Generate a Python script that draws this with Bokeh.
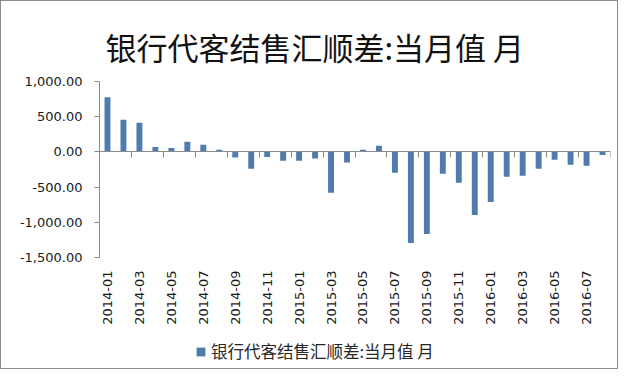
import math
from bokeh.plotting import figure
from bokeh.layouts import column
from bokeh.models import (ColumnDataSource, Range1d, FixedTicker, LinearAxis,
                          NumeralTickFormatter, Legend, LegendItem)
from bokeh.embed import file_html
from bokeh.resources import INLINE

months = [
    "2014-01", "2014-02", "2014-03", "2014-04", "2014-05", "2014-06",
    "2014-07", "2014-08", "2014-09", "2014-10", "2014-11", "2014-12",
    "2015-01", "2015-02", "2015-03", "2015-04", "2015-05", "2015-06",
    "2015-07", "2015-08", "2015-09", "2015-10", "2015-11", "2015-12",
    "2016-01", "2016-02", "2016-03", "2016-04", "2016-05", "2016-06",
    "2016-07", "2016-08",
]
values = [
    775, 457, 414, 71, 57, 143, 100, 29, -81, -238, -71, -124,
    -124, -95, -581, -152, 29, 86, -295, -1295, -1167, -310, -438, -895,
    -710, -352, -338, -238, -110, -181, -195, -43,
]
y_ticks = [-1500, -1000, -500, 0, 500, 1000]
title_text = "银行代客结售汇顺差:当月值 月"
series_name = "银行代客结售汇顺差:当月值 月"

BAR = "#4F7CAC"
AXIS = "#8a8a8a"
TXT = "#1a1a1a"

x = list(range(len(months)))
src = ColumnDataSource(dict(x=x, top=values, month=months))

p = figure(width=616, height=329, output_backend="svg", toolbar_location=None,
           x_range=Range1d(-0.5, len(months) - 0.5),
           y_range=Range1d(min(y_ticks), max(y_ticks)),
           min_border_left=98, min_border_right=7,
           min_border_top=80, min_border_bottom=73)

p.title.text = title_text
p.title.align = "left"
p.title.offset = 6
p.title.standoff = 26
p.title.text_font = "Noto Sans CJK SC"
p.title.text_font_size = "31px"
p.title.text_font_style = "normal"
p.title.text_color = "#111111"

r = p.vbar(x="x", top="top", bottom=0, width=0.37, source=src,
           fill_color=BAR, line_color=None)

p.xgrid.visible = False
p.ygrid.visible = False
p.outline_line_color = None

xa = p.xaxis[0]
xa.ticker = FixedTicker(ticks=x[::2])
xa.major_label_overrides = {i: months[i] for i in x[::2]}
xa.major_label_orientation = math.pi / 2
xa.axis_line_alpha = 0
xa.major_tick_line_alpha = 0
xa.minor_tick_line_alpha = 0
xa.major_tick_out = 6
xa.major_label_text_font = "DejaVu Sans"
xa.major_label_text_font_size = "13px"
xa.major_label_text_color = TXT
xa.major_label_standoff = 7

za = LinearAxis(fixed_location=0,
                ticker=FixedTicker(ticks=[i - 0.5 for i in x[::2]] + [len(months) - 0.5]))
za.axis_line_color = AXIS
za.major_tick_line_color = AXIS
za.major_tick_in = 0
za.major_tick_out = 6
za.minor_tick_line_alpha = 0
za.major_label_text_alpha = 0
p.add_layout(za, "below")

ya = p.yaxis[0]
ya.ticker = FixedTicker(ticks=y_ticks)
ya.formatter = NumeralTickFormatter(format="0,0.00")
ya.axis_line_color = AXIS
ya.major_tick_line_color = AXIS
ya.major_tick_in = 0
ya.major_tick_out = 5
ya.minor_tick_line_alpha = 0
ya.major_label_text_font = "DejaVu Sans"
ya.major_label_text_font_size = "13px"
ya.major_label_text_color = TXT
ya.major_label_standoff = 12

# legend strip below the chart (its frame is aligned with the chart's frame)
lf = figure(width=616, height=38, output_backend="svg", toolbar_location=None,
            x_range=Range1d(-0.5, len(months) - 0.5), y_range=Range1d(5000, 6000),
            x_axis_type=None, y_axis_type=None,
            min_border_left=0, min_border_right=0,
            min_border_top=0, min_border_bottom=0)
lf.xgrid.visible = False
lf.ygrid.visible = False
lf.outline_line_color = None
lr = lf.vbar(x="x", top="top", bottom=0, width=0.37, source=src,
             fill_color=BAR, line_color=None, visible=False)

legend = Legend(items=[LegendItem(label=series_name, renderers=[lr])],
                orientation="horizontal", location=(94, 3),
                label_text_font="Noto Sans CJK SC", label_text_font_size="16.5px",
                label_text_color="#262626", glyph_width=11, glyph_height=11,
                border_line_alpha=0, background_fill_alpha=0,
                inactive_fill_alpha=0,
                label_standoff=5, padding=2, margin=0)
lf.add_layout(legend)

layout = column(p, lf, styles={"border": "1px solid #8c8c8c"})

open("out.html", "w").write(file_html(layout, INLINE))
